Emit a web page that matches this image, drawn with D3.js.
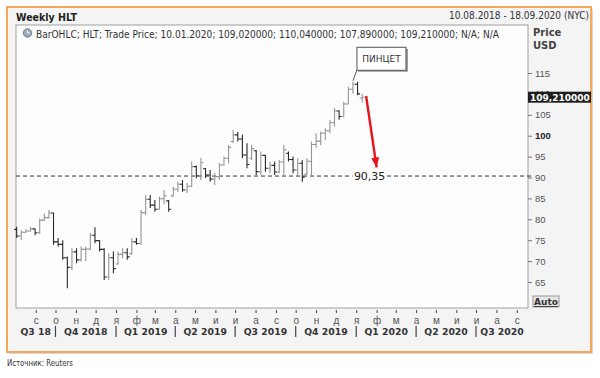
<!DOCTYPE html>
<html>
<head>
<meta charset="utf-8">
<script src="https://cdn.jsdelivr.net/npm/d3@7"></script>
<style>
body{margin:0;background:#fff;}
svg{display:block;font-family:"DejaVu Sans",Verdana,sans-serif;}
</style>
</head>
<body>
<svg id="chart" width="600" height="378"></svg>
<script>
// weekly bars, one per friday starting here
const firstWeek = "2018-08-03";
const opens = [77.6,76.0,76.9,77.2,77.7,76.8,79.8,80.4,81.5,74.6,
    74.0,70.8,68.5,72.2,70.3,72.8,72.9,76.2,74.9,72.8,
    66.2,70.8,69.3,71.6,72.0,71.8,74.6,74.2,81.6,84.8,
    83.4,82.4,84.9,84.4,85.6,87.2,88.4,87.0,87.9,92.6,
    90.4,92.1,90.6,89.6,90.2,93.0,94.6,98.6,100.2,99.2,
    95.4,94.6,96.4,91.4,95.3,92.2,92.9,91.3,93.7,95.8,
    94.3,91.8,93.4,90.8,93.9,97.9,98.7,100.6,101.2,103.1,
    105.9,104.6,107.6,111.1,112.3,109.02];
const highs = [78.2,77.4,77.6,78.1,77.8,80.2,81.4,82.2,81.6,75.5,
    75.0,71.1,73.1,73.1,73.5,73.5,76.7,78.1,75.0,73.1,
    71.9,72.3,72.3,73.1,73.1,75.5,75.5,82.2,85.8,85.8,
    84.6,85.4,87.0,84.6,87.8,89.0,89.4,88.7,93.8,92.9,
    94.7,92.3,91.8,91.1,93.5,95.0,97.8,101.4,100.9,100.2,
    98.2,97.8,96.6,96.2,95.4,93.8,93.8,94.2,97.8,96.2,
    95.0,94.6,94.2,94.6,98.6,100.6,101.0,101.8,103.8,106.6,
    106.1,108.1,111.7,112.9,112.9,110.04];
const lows = [75.5,75.0,76.7,77.0,76.2,76.5,79.6,80.2,73.9,73.5,
    70.3,63.5,67.9,69.5,69.9,70.0,72.6,74.3,72.3,65.5,
    65.5,67.1,69.1,70.7,70.3,71.5,73.9,73.9,81.0,82.7,
    81.8,82.3,83.6,81.8,85.4,86.6,86.6,86.3,87.7,89.8,
    89.4,89.9,89.0,88.2,89.4,92.8,93.4,98.2,98.6,94.6,
    92.2,94.2,90.6,90.6,91.4,91.0,90.6,91.0,90.6,93.8,
    91.0,90.6,89.0,90.6,90.2,97.1,97.8,99.0,100.6,102.2,
    103.8,104.4,107.5,110.1,109.7,107.89];
const closes = [76.0,76.9,77.2,77.7,76.8,79.8,80.4,81.5,74.6,74.0,
    70.8,68.5,72.2,70.3,72.8,72.9,76.2,74.9,72.8,66.2,
    70.8,68.2,71.6,72.0,71.0,74.6,74.2,81.6,84.8,83.4,
    82.4,84.9,85.6,82.4,87.2,88.4,87.0,87.9,92.6,90.4,
    93.6,90.6,89.6,90.2,93.0,94.6,97.2,100.2,99.2,95.4,
    93.1,96.9,91.4,95.3,92.2,92.9,91.3,93.7,96.6,94.3,
    91.8,93.4,90.1,93.9,97.9,98.7,100.6,101.2,103.1,105.9,
    104.6,107.6,111.1,112.3,110.0,109.21];

const priceTicks = [65,70,75,80,85,90,95,100,105,110,115];
const monthLabels = ["с","о","н","д","я","ф","м","а","м","и","и","а","с","о","н","д","я","ф","м","а","м","и","и","а","с"];
const quarterLabels = ["Q3 18","Q4 2018","Q1 2019","Q2 2019","Q3 2019","Q4 2019","Q1 2020","Q2 2020","Q3 2020"];

const levelValue = 90.35, levelText = "90,35";
const lastText = "109,210000";
const patternText = "ПИНЦЕТ";
const peakIndex = 73;
const arrowFrom = {date:"2020-01-16", value:109.5};
const arrowTo = {date:"2020-02-01", value:92.4};

const titleText = "Weekly HLT";
const rangeText = "10.08.2018 - 18.09.2020 (NYC)";
const legendText = "BarOHLC; HLT; Trade Price; 10.01.2020; 109,020000; 110,040000; 107,890000; 109,210000; N/A; N/A";
const sourceText = "Источник: Reuters";

const parse = d3.timeParse("%Y-%m-%d");
const dates = opens.map((d,i)=> d3.timeDay.offset(parse(firstWeek), 7*i));

const svg = d3.select("#chart");
const plot = {l:16, t:25, r:528, b:308};

const x = d3.scaleTime().domain([new Date(2018,7,2), new Date(2020,8,18)]).range([plot.l, plot.r]);
const y = d3.scaleLinear().domain([65,115]).range([282,73]);

// squeeze text to the width it has in the original (narrow font)
function fit(sel, w){ sel.attr("textLength", w).attr("lengthAdjust","spacingAndGlyphs"); }

// frame
svg.append("rect").attr("x",9).attr("y",9).attr("width",584).attr("height",345).attr("fill","#d8d8d8");
svg.append("rect").attr("x",7).attr("y",7).attr("width",584).attr("height",345)
    .attr("fill","#f4f4f4").attr("stroke","#f6a85a").attr("stroke-width",2);

fit(svg.append("text").attr("x",16).attr("y",20.5).attr("font-size",11).attr("font-weight","bold")
    .attr("fill","#222").text(titleText), 61);
fit(svg.append("text").attr("x",449).attr("y",19).attr("font-size",10.5)
    .attr("fill","#333").text(rangeText), 140);

svg.append("rect").attr("x",plot.l).attr("y",plot.t).attr("width",plot.r-plot.l).attr("height",plot.b-plot.t)
    .attr("fill","#fdfdfd").attr("stroke","#a0a0a0");

// legend line
let ic = svg.append("g").attr("transform","translate(27.5,33)");
ic.append("circle").attr("r",4.2).attr("fill","#9aa8bb").attr("stroke","#5d6b80").attr("stroke-width",0.8);
ic.append("path").attr("d","M0,-2.6V0H2.4").attr("fill","none").attr("stroke","#fff").attr("stroke-width",1);
fit(svg.append("text").attr("x",36).attr("y",38).attr("font-size",10.5).attr("fill","#333").text(legendText), 463);

svg.append("text").attr("x",533).attr("y",36).attr("font-size",10).attr("font-weight","bold").attr("fill","#444").text("Price");
svg.append("text").attr("x",533).attr("y",49).attr("font-size",10).attr("font-weight","bold").attr("fill","#444").text("USD");

// support level
const ly = y(levelValue);
svg.append("line").attr("x1",plot.l).attr("x2",plot.r+4).attr("y1",ly).attr("y2",ly)
    .attr("stroke","#333").attr("stroke-dasharray","4,3");

// OHLC bars
const bars = svg.append("g").attr("fill","none").attr("stroke-width",1.1);
bars.selectAll("path").data(dates).join("path")
    .attr("stroke",(d,i)=> closes[i] < opens[i] ? "#2a2a2a" : "#959595")
    .attr("d",(d,i)=>{
        const cx = x(d);
        return "M"+cx+","+y(highs[i])+"V"+y(lows[i])+
            "M"+(cx-2.5)+","+y(opens[i])+"H"+cx+
            "M"+cx+","+y(closes[i])+"H"+(cx+2.5);
    });

// level label with gap
const lx = x(parse(arrowTo.date)) - 7;
svg.append("rect").attr("x",lx-17).attr("y",ly-7).attr("width",34).attr("height",12).attr("fill","#fdfdfd");
svg.append("text").attr("x",lx).attr("y",ly+3.8).attr("text-anchor","middle").attr("font-size",11)
    .attr("fill","#222").text(levelText);

// tweezers box
const px = x(dates[peakIndex]), py = y(highs[peakIndex]);
svg.append("line").attr("x1",px).attr("y1",py-1).attr("x2",px+4).attr("y2",py-12).attr("stroke","#555");
svg.append("rect").attr("x",px+5).attr("y",py-33).attr("width",50).attr("height",23).attr("fill","#999");
svg.append("rect").attr("x",px+4).attr("y",py-34.5).attr("width",49).attr("height",23)
    .attr("fill","#fff").attr("stroke","#555");
svg.append("text").attr("x",px+28.5).attr("y",py-19.5).attr("text-anchor","middle").attr("font-size",9)
    .attr("fill","#333").text(patternText);

// red arrow
svg.append("defs").append("marker").attr("id","ah").attr("markerUnits","userSpaceOnUse")
    .attr("markerWidth",10).attr("markerHeight",8).attr("refX",10).attr("refY",4).attr("orient","auto")
    .append("path").attr("d","M0,0L10,4L0,8Z").attr("fill","#e4161c");
svg.append("line").attr("x1",x(parse(arrowFrom.date))).attr("y1",y(arrowFrom.value))
    .attr("x2",x(parse(arrowTo.date))).attr("y2",y(arrowTo.value))
    .attr("stroke","#e4161c").attr("stroke-width",2.4).attr("marker-end","url(#ah)");

// price axis
const ya = svg.append("g").attr("transform","translate("+plot.r+",0)")
    .call(d3.axisRight(y).tickValues(priceTicks).tickSize(4).tickPadding(3));
ya.select(".domain").remove();
ya.selectAll("line").attr("stroke","#777");
ya.selectAll("text").attr("font-size",9.5).attr("font-family",null)
    .attr("font-weight",d=> d===100 ? "bold" : null).attr("fill",d=> d===100 ? "#222" : "#555");

// last price box
const lp = y(closes[closes.length-1]);
svg.append("rect").attr("x",plot.r).attr("y",lp-5.5).attr("width",63).attr("height",11).attr("fill","#1e1e1e");
svg.append("text").attr("x",plot.r+2).attr("y",lp+3.5).attr("font-size",9).attr("font-weight","bold")
    .attr("fill","#fff").text(lastText);

// Auto button
svg.append("rect").attr("x",533).attr("y",296).attr("width",26).attr("height",11)
    .attr("fill","#e6e6e6").attr("stroke","#999");
svg.append("text").attr("x",546).attr("y",305).attr("text-anchor","middle").attr("font-size",9)
    .attr("font-weight","bold").attr("fill","#333").attr("text-decoration","underline").text("Auto");

// month axis
const months = d3.timeMonth.range(new Date(2018,8,1), new Date(2020,8,2));
const xa = svg.append("g").attr("transform","translate(0,310)")
    .call(d3.axisBottom(x).tickValues(months).tickSize(3).tickPadding(4).tickFormat((d,i)=>monthLabels[i]));
xa.select(".domain").remove();
xa.selectAll("line").attr("stroke","#444");
xa.selectAll("text").attr("font-size",10).attr("fill","#555").attr("font-family",null);

// quarters
const quarters = d3.timeMonth.every(3).range(new Date(2018,6,1), new Date(2020,9,1));
const d0 = x.domain()[0], d1 = x.domain()[1];
quarters.forEach((q,i)=>{
    const a = x(q < d0 ? d0 : q);
    const b = x(d3.timeMonth.offset(q,3) > d1 ? d1 : d3.timeMonth.offset(q,3));
    if (q > d0)
        svg.append("line").attr("x1",x(q)).attr("x2",x(q)).attr("y1",326).attr("y2",337)
            .attr("stroke","#444").attr("stroke-width",1.2);
    svg.append("text").attr("x",(a+b)/2).attr("y",335).attr("text-anchor","middle")
        .attr("font-size",9.3).attr("font-weight","bold").attr("fill","#333").text(quarterLabels[i]);
});

fit(svg.append("text").attr("x",7).attr("y",366).attr("font-size",8.5).attr("fill","#333").text(sourceText), 66);
</script>
</body>
</html>
